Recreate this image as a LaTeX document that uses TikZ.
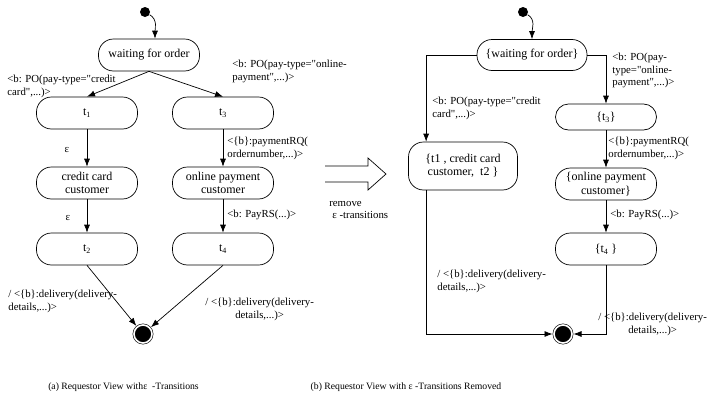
\documentclass[tikz,border=0pt]{standalone}
\usepackage{fontspec}
\setmainfont{Liberation Serif}[Ligatures=TeXOff]
\usetikzlibrary{arrows.meta,positioning}

\begin{document}
\begin{tikzpicture}
	[x=1pt,y=-1pt,line width=0.7pt,
	main node/.style={shape=rectangle,draw,rounded corners=15pt,minimum width=101pt,minimum height=32pt,inner sep=1pt,align=center,font=\fontsize{12}{13.5}\selectfont},
	start node/.style={shape=circle,fill=black,inner sep=0pt,minimum size=10pt},
	end node/.style={shape=circle,fill=black,draw,double=white,double distance=1.6pt,line width=0.6pt,inner sep=0pt,minimum size=18pt,outer sep=1.5pt},
	edge label/.style={font=\fontsize{10.8}{12.5}\selectfont,align=left,inner sep=0pt},
	arr/.style={-{Latex[length=8pt,width=6pt]}}]
	\useasboundingbox (0,0) rectangle (713,407);
	
	% (a) with epsilon transitions
	\node [start node] (i1) at (145,12) {};
	\node [main node] (wait) at (149,55) {waiting for order};
	\node [main node] (t1) at (87,113) {t\textsubscript{1}};
	\node [main node] (t3) at (223,113) {t\textsubscript{3}};
	\node [main node] (cc) at (87,183) {credit card\\customer};
	\node [main node] (op) at (223,183) {online payment\\customer};
	\node [main node] (t2) at (87,249) {t\textsubscript{2}};
	\node [main node] (t4) at (223,249) {t\textsubscript{4}};
	\node [end node] (f1) at (143,334) {};
	
	\node [edge label,anchor=north west] (a1) at (7,75) {<b: PO(pay-type="credit\\card",...)>};
	\node [edge label,anchor=north west] (a2) at (232,60) {<b: PO(pay-type="online-\\payment",...)>};
	\node [edge label] (a3) at (67,150) {ε};
	\node [edge label,anchor=north west] (a4) at (227,137) {<\{b\}:paymentRQ(\\ordernumber,...)>};
	\node [edge label] (a5) at (68,218) {ε};
	\node [edge label,anchor=west] (a6) at (227,215) {<b: PayRS(...)>};
	\node [edge label,anchor=north west] (a7) at (8,290) {/ <\{b\}:delivery(delivery-\\details,...)>};
	\node [edge label,anchor=north west,align=center] (a8) at (205,298) {/ <\{b\}:delivery(delivery-\\details,...)>};
	
	\path[every edge/.append style={arr}]
	(i1) edge [out=-30,in=90] ([xshift=6pt]wait.north)
	(wait.south) edge (t1.north)
	(wait.south) edge (t3.north)
	(t1) edge (cc)
	(t3) edge (op)
	(cc) edge (t2)
	(op) edge (t4)
	(t2.south) edge (f1)
	(t4.south) edge (f1)
	;
	
	% hollow arrow between the views
	\draw (325,166) -- (368,166) -- (368,158) -- (386,174) -- (368,190) -- (368,182) -- (325,182);
	\node [edge label,anchor=north west] (rm) at (329,201) {remove\\\hspace{3pt}ε -transitions};
	
	% (b) with epsilon transitions removed
	\node [start node] (i2) at (523,12) {};
	\node [main node,minimum width=110pt,minimum height=31pt] (wait2) at (532,55) {\{waiting for order\}};
	\node [main node,minimum width=109pt,minimum height=48pt] (m) at (463,166) {\{t1 , credit card\\customer,\ \ t2 \}};
	\node [main node,minimum height=26pt,rounded corners=13pt] (t3b) at (606,117) {\{t\textsubscript{3}\}};
	\node [main node] (op2) at (606,184) {\{online payment\\customer\}};
	\node [main node] (t4b) at (606,249) {\{t\textsubscript{4} \}};
	\node [end node] (f2) at (563,334) {};
	
	\node [edge label,anchor=north west] (b1) at (432,97) {<b: PO(pay-type="credit\\card",...)>};
	\node [edge label,anchor=north west] (b2) at (612,53) {<b: PO(pay-\\type="online-\\payment",...)>};
	\node [edge label,anchor=north west] (b3) at (608,137) {<\{b\}:paymentRQ(\\ordernumber,...)>};
	\node [edge label,anchor=west] (b4) at (610,215) {<b: PayRS(...)>};
	\node [edge label,anchor=north west] (b5) at (437,270) {/ <\{b\}:delivery(delivery-\\details,...)>};
	\node [edge label,anchor=north west,align=center] (b6) at (598,313) {/ <\{b\}:delivery(delivery-\\details,...)>};
	
	\draw[arr] (i2) to [out=-30,in=90] (wait2.north);
	\draw[arr] (wait2.west) -| ([xshift=18pt]m.north west);
	\draw[arr] (wait2.east) -| (t3b.north);
	\draw[arr] (t3b) -- (op2);
	\draw[arr] (op2) -- (t4b);
	\draw[arr] (t4b.south) |- (f2.east);
	\draw[arr] ([xshift=18pt]m.south west) |- (f2.west);
	
	% captions
	\node [font=\fontsize{9.7}{11}\selectfont] (capa) at (123.5,387) {(a) Requestor View withε\ \ -Transitions};
	\node [font=\fontsize{9.7}{11}\selectfont] (capb) at (406,387) {(b) Requestor View with ε -Transitions Removed};
	
\end{tikzpicture}
\end{document}
